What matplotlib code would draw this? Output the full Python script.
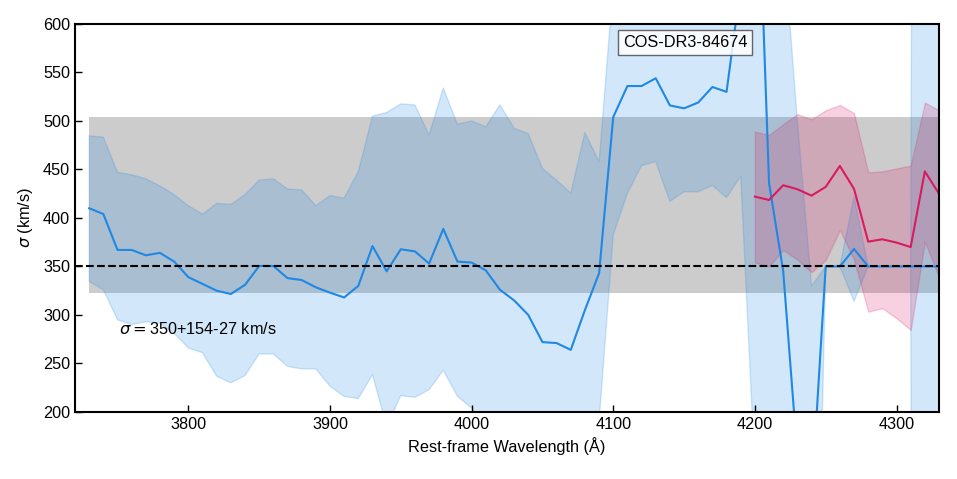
import numpy as np
import matplotlib
matplotlib.use('Agg')
import matplotlib.pyplot as plt

plt.rcParams['font.family'] = ['Liberation Sans', 'DejaVu Sans']
plt.rcParams['mathtext.fontset'] = 'dejavusans'

# data
wave_blue = np.arange(3730, 4331, 10)
sig_blue = [410, 404, 367, 367, 361.5, 364, 355, 339, 332, 325,
            321.6, 331, 350.5, 350.5, 338, 336, 328.5, 323, 318, 330,
            371, 345, 367.7, 365.5, 353, 388.7, 355, 354, 346, 326,
            315, 300, 272, 271, 264, 305, 343, 504, 536, 536,
            544, 516, 513, 519, 535, 530, 640, 850, 436, 345,
            155, 112, 350, 350, 368, 350, 350, 350, 350, 350, 350]
up_blue = [484.7, 483.3, 447, 444.5, 440.4, 433, 424, 412.6, 404, 415,
           414, 424, 439, 440.4, 429.8, 429, 412.6, 423, 420.5, 448,
           505, 508.7, 517.6, 516.5, 485.6, 534, 496.6, 500, 494, 516.5,
           492.5, 487, 451, 439, 425.6, 488, 458, 640, 700, 720,
           730, 710, 700, 710, 720, 720, 800, 900, 850, 690,
           500, 330, 350, 350, 422, 350, 350, 350, 350, 5000, 5000]
lo_blue = [334.6, 326, 295, 290, 293, 291.6, 281, 266, 261, 236.8,
           230, 237.5, 259.8, 259.8, 247, 244.4, 244.4, 226.5, 216, 213.8,
           238.5, 185, 216.8, 215, 223, 243, 216, 204, 185, 160,
           140, 120, 100, 90, 80, 100, 190, 382.5, 425.5, 454,
           458, 417, 427, 427, 433.5, 421, 443, 140, -300, -300,
           -300, -300, 350, 350, 314, 350, 350, 350, 350, -5000, -5000]

wave_red = np.arange(4200, 4331, 10)
sig_red = [422, 418.5, 433.7, 429.6, 423, 432, 453.6, 430, 375.6, 378, 374.6, 370, 448, 425]
up_red = [489, 485.6, 496.6, 507, 501.7, 511, 516.5, 508, 447, 448, 451, 454, 519, 511]
lo_red = [354, 350, 367, 357, 344, 356.7, 387.6, 357, 303.4, 307, 296.6, 284.5, 375.6, 339]

sig_best = 350
sig_errp = 154
sig_errm = 27
name = 'COS-DR3-84674'

c_blue = '#1E88E5'
c_red = '#D81B60'

fig = plt.figure(figsize=(9.57, 4.79), dpi=100)
ax = fig.add_axes([0.0784, 0.140, 0.9028, 0.810])

ax.fill_between(wave_blue, sig_best - sig_errm, sig_best + sig_errp,
                color='gray', alpha=0.4, lw=0)
ax.fill_between(wave_blue, lo_blue, up_blue, color=c_blue, alpha=0.2)
ax.plot(wave_blue, sig_blue, color=c_blue, lw=1.5)
ax.fill_between(wave_red, lo_red, up_red, color=c_red, alpha=0.2)
ax.plot(wave_red, sig_red, color=c_red, lw=1.5)
ax.axhline(sig_best, color='k', ls='--', lw=1.5)

ax.text(0.051, 0.215, r'$\sigma=$' + '%d+%d-%d km/s' % (sig_best, sig_errp, sig_errm),
        transform=ax.transAxes, fontsize=11.7, va='center', ha='left')
ax.text(0.706, 0.952, name, transform=ax.transAxes, fontsize=11.7,
        ha='center', va='center',
        bbox=dict(boxstyle='square,pad=0.3', fc='white', ec='0.3', alpha=0.85))

ax.set_xlim(3720, 4330)
ax.set_ylim(200, 600)
ax.set_xticks([3800, 3900, 4000, 4100, 4200, 4300])
ax.set_yticks(np.arange(200, 601, 50))
ax.tick_params(direction='in', length=5, width=1, labelsize=11.7)
for s in ax.spines.values():
    s.set_linewidth(1.5)
ax.set_xlabel('Rest-frame Wavelength (Å)', fontsize=11.7)
ax.set_ylabel(r'$\sigma$ (km/s)', fontsize=11.7, labelpad=6)

fig.savefig('out.png', dpi=100)
